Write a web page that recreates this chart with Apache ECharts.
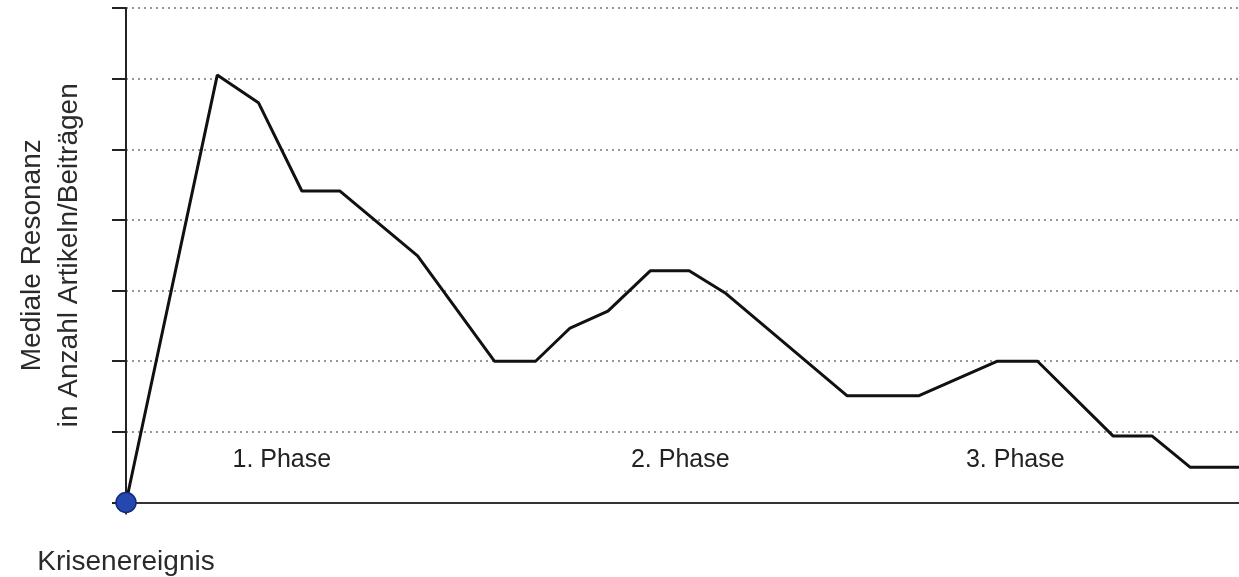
<!DOCTYPE html>
<html>
<head>
<meta charset="utf-8">
<script src="https://cdn.jsdelivr.net/npm/echarts@6/dist/echarts.min.js"></script>
<style>html,body{margin:0;padding:0;background:#fff;}#c{width:1239px;height:577px;}</style>
</head>
<body>
<div id="c"></div>
<script>
// Time (0–100, arbitrary units) and media resonance (grid units)
const timeX = [0, 8.2, 11.9, 15.8, 19.2, 26.2, 33.1, 36.8, 39.9, 43.3, 47.1, 50.6, 53.8, 64.8, 71.2, 78.3, 81.9, 88.7, 92.2, 95.6, 100];
const resonance = [0, 6.05, 5.66, 4.41, 4.41, 3.49, 2.0, 2.0, 2.47, 2.71, 3.28, 3.28, 2.97, 1.51, 1.51, 2.0, 2.0, 0.94, 0.94, 0.5, 0.5];
const eventPoint = [[0, 0]];
const phaseNames = ['1. Phase', '2. Phase', '3. Phase'];
const phaseX = [14.0, 49.8, 79.9];
const phaseY = [0.6, 0.6, 0.6];
const yAxisTitle = 'Mediale Resonanz\nin Anzahl Artikeln/Beiträgen';
const xAxisLabel = 'Krisenereignis';

const chart = echarts.init(document.getElementById('c'));
chart.setOption({
  animation: false,
  backgroundColor: '#ffffff',
  grid: { left: 126, right: 0, top: 8, bottom: 74.5, containLabel: false, outerBoundsMode: 'none' },
  xAxis: {
    type: 'value', min: 0, max: 100,
    axisLine: { show: true, lineStyle: { color: '#333', width: 2 } },
    axisTick: { show: true, customValues: [0], length: 12, lineStyle: { color: '#333', width: 2 } },
    axisLabel: { show: true, customValues: [0], formatter: () => xAxisLabel, margin: 46,
      fontFamily: 'Liberation Sans, Arial, sans-serif', fontSize: 28, color: '#2a2a2a' },
    splitLine: { show: false }
  },
  yAxis: {
    type: 'value', min: 0, max: 7, interval: 1,
    name: yAxisTitle, nameLocation: 'middle', nameRotate: 90, nameGap: 38,
    nameTextStyle: { fontFamily: 'Liberation Sans, Arial, sans-serif', fontSize: 28, lineHeight: 37, color: '#2a2a2a', align: 'center' },
    axisLine: { show: true, lineStyle: { color: '#222', width: 2 } },
    axisTick: { show: true, inside: false, length: 14, lineStyle: { color: '#222', width: 2 } },
    axisLabel: { show: false },
    splitLine: { show: true, lineStyle: { color: '#777', width: 1.5, type: [2, 4] } }
  },
  series: [
    {
      type: 'line', name: 'Resonanz',
      data: timeX.map((x, i) => [x, resonance[i]]),
      symbol: 'none', lineStyle: { color: '#111', width: 3 }, z: 3
    },
    {
      type: 'scatter', name: 'Krisenereignis', data: eventPoint,
      symbol: 'circle', symbolSize: 20,
      itemStyle: { color: '#2447b0', borderColor: '#142a78', borderWidth: 1.5, opacity: 1 }, z: 5
    },
    {
      type: 'scatter', name: 'Phasen',
      data: phaseX.map((x, i) => ({ value: [x, phaseY[i]], name: phaseNames[i] })),
      symbolSize: 0, silent: true, itemStyle: { opacity: 1 },
      label: { show: true, position: 'inside', formatter: p => p.name, opacity: 1, textBorderWidth: 0,
        fontFamily: 'Liberation Sans, Arial, sans-serif', fontSize: 25, color: '#222' }
    }
  ]
});
</script>
</body>
</html>
